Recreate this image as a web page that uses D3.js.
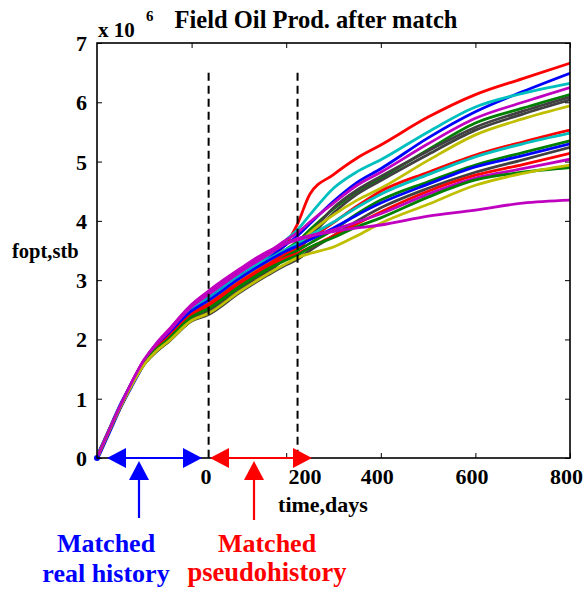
<!DOCTYPE html>
<html><head><meta charset="utf-8">
<script src="https://cdn.jsdelivr.net/npm/d3@7"></script>
<style>
body{margin:0;background:#fff}
text{font-family:"Liberation Serif","Times New Roman",serif;font-weight:bold}
</style>
</head><body>
<svg id="c" width="583" height="590"></svg>
<script>
// ---------- data ----------
const times = [-200, -150, -100, -75, -50, 0, 36, 100, 160, 200, 224, 250, 300, 350, 400, 500, 600, 700, 800];
const seriesColors = ["red","blue","cyan","magenta","green","gray","gray","yellow","red","cyan","green","blue","gray","red","magenta","green","yellow","magenta"];
const s01 = [0, .88, 1.64, 1.89, 2.09, 2.51, 2.70, 3.06, 3.36, 3.62, 3.95, 4.45, 4.78, 5.06, 5.28, 5.75, 6.13, 6.40, 6.66];
const s02 = [0, .89, 1.64, 1.90, 2.10, 2.52, 2.72, 3.08, 3.38, 3.60, 3.75, 3.95, 4.33, 4.65, 4.88, 5.40, 5.84, 6.18, 6.49];
const s03 = [0, .89, 1.64, 1.90, 2.11, 2.53, 2.74, 3.10, 3.40, 3.68, 3.85, 4.10, 4.55, 4.83, 5.03, 5.50, 5.92, 6.15, 6.32];
const s04 = [0, .89, 1.66, 1.92, 2.14, 2.58, 2.80, 3.16, 3.46, 3.68, 3.80, 3.98, 4.30, 4.60, 4.82, 5.30, 5.73, 6.00, 6.25];
const s05 = [0, .88, 1.62, 1.87, 2.06, 2.46, 2.64, 3.00, 3.30, 3.52, 3.65, 3.85, 4.20, 4.50, 4.72, 5.20, 5.65, 5.90, 6.13];
const s06 = [0, .87, 1.60, 1.82, 1.99, 2.37, 2.50, 2.86, 3.16, 3.42, 3.55, 3.78, 4.22, 4.52, 4.75, 5.18, 5.58, 5.85, 6.09];
const s07 = [0, .87, 1.59, 1.80, 1.97, 2.34, 2.46, 2.82, 3.12, 3.38, 3.50, 3.73, 4.13, 4.45, 4.68, 5.12, 5.53, 5.80, 6.04];
const s08 = [0, .88, 1.62, 1.86, 2.05, 2.45, 2.62, 2.98, 3.28, 3.48, 3.60, 3.80, 4.10, 4.35, 4.55, 5.02, 5.45, 5.72, 5.94];
const s09 = [0, .88, 1.62, 1.85, 2.04, 2.44, 2.60, 2.96, 3.26, 3.45, 3.55, 3.70, 3.97, 4.25, 4.50, 4.82, 5.11, 5.33, 5.53];
const s10 = [0, .88, 1.63, 1.88, 2.08, 2.49, 2.68, 3.04, 3.34, 3.52, 3.62, 3.75, 3.98, 4.23, 4.45, 4.78, 5.08, 5.30, 5.48];
const s11 = [0, .88, 1.61, 1.84, 2.02, 2.41, 2.56, 2.92, 3.22, 3.40, 3.50, 3.62, 3.85, 4.12, 4.35, 4.66, 4.94, 5.15, 5.35];
const s12 = [0, .88, 1.63, 1.87, 2.07, 2.48, 2.66, 3.02, 3.32, 3.49, 3.58, 3.68, 3.88, 4.10, 4.30, 4.62, 4.91, 5.10, 5.30];
const s13 = [0, .87, 1.58, 1.79, 1.95, 2.31, 2.42, 2.78, 3.08, 3.26, 3.35, 3.50, 3.75, 4.00, 4.22, 4.55, 4.82, 5.03, 5.24];
const s14 = [0, .88, 1.61, 1.85, 2.03, 2.42, 2.58, 2.94, 3.24, 3.38, 3.45, 3.55, 3.75, 3.95, 4.15, 4.50, 4.77, 4.95, 5.14];
const s15 = [0, .89, 1.65, 1.91, 2.12, 2.55, 2.76, 3.12, 3.42, 3.62, 3.70, 3.75, 3.85, 3.98, 4.12, 4.45, 4.72, 4.88, 5.04];
const s16 = [0, .87, 1.60, 1.83, 2.00, 2.38, 2.52, 2.88, 3.18, 3.34, 3.42, 3.55, 3.72, 3.90, 4.05, 4.40, 4.69, 4.82, 4.90];
const s17 = [0, .87, 1.58, 1.80, 1.96, 2.32, 2.44, 2.80, 3.10, 3.28, 3.38, 3.45, 3.56, 3.75, 3.96, 4.28, 4.60, 4.80, 4.94];
const s18 = [0, .89, 1.66, 1.93, 2.15, 2.59, 2.82, 3.18, 3.48, 3.62, 3.68, 3.74, 3.82, 3.88, 3.93, 4.08, 4.18, 4.30, 4.35];
const seriesValues = [s01,s02,s03,s04,s05,s06,s07,s08,s09,s10,s11,s12,s13,s14,s15,s16,s17,s18];
const observedTimes = [-200, -175, -150, -125, -100];
const observedValues = [0, 0.44, 0.88, 1.26, 1.62];
const yTicks = [0,1,2,3,4,5,6,7];
const xTicks = [0,200,400,600,800];
const xDomain = [-200, 800];
const yDomain = [0, 7];
const matchStart = 36, matchEnd = 224;   // dashed lines (days)
const dashTop = 6.5;
const title = "Field Oil Prod. after match";
const palette = {red:"#ff0000", blue:"#0000ff", cyan:"#00bfbf", magenta:"#bf00bf",
  green:"#008000", gray:"#404040", yellow:"#bfbf00"};

// ---------- layout ----------
const L = 97, R = 570, T = 43, B = 458;
const x = d3.scaleLinear().domain(xDomain).range([L, R]);
const y = d3.scaleLinear().domain(yDomain).range([B, T]);
const svg = d3.select("#c");

svg.append("defs").append("clipPath").attr("id","clip")
  .append("rect").attr("x",L).attr("y",T).attr("width",R-L).attr("height",B-T);

// lines
const line = d3.line().x(d=>x(d[0])).y(d=>y(d[1])).curve(d3.curveMonotoneX);
const g = svg.append("g").attr("clip-path","url(#clip)");
g.append("path").datum(observedTimes.map((t,i)=>[t,observedValues[i]]))
  .attr("d",line).attr("fill","none").attr("stroke","#0000ff").attr("stroke-width",4.5);
seriesValues.forEach((vals,k)=>{
  g.append("path").datum(times.map((t,i)=>[t,vals[i]]))
    .attr("d",line).attr("fill","none")
    .attr("stroke",palette[seriesColors[k]]).attr("stroke-width",2.8)
    .attr("stroke-linejoin","round");
});
svg.append("circle").attr("cx",x(xDomain[0])).attr("cy",y(0)).attr("r",3).attr("fill","#0000ff");

// dashed lines
[matchStart, matchEnd].forEach(t=>{
  svg.append("line").attr("x1",x(t)).attr("x2",x(t)).attr("y1",y(dashTop)).attr("y2",y(0))
    .attr("stroke","#000").attr("stroke-width",2).attr("stroke-dasharray","8,5");
});

// axes (box with inward ticks)
const tick = 5;
const ax = svg.append("g");
const xb = ax.append("g").attr("transform",`translate(0,${B})`)
  .call(d3.axisBottom(x).tickValues(xTicks).tickSize(-tick).tickFormat(d3.format("d")));
const xt = ax.append("g").attr("transform",`translate(0,${T})`)
  .call(d3.axisTop(x).tickValues(xTicks).tickSize(-tick).tickFormat(""));
const yl = ax.append("g").attr("transform",`translate(${L},0)`)
  .call(d3.axisLeft(y).tickValues(yTicks).tickSize(-tick).tickFormat(d3.format("d")));
const yr = ax.append("g").attr("transform",`translate(${R},0)`)
  .call(d3.axisRight(y).tickValues(yTicks).tickSize(-tick).tickFormat(""));
ax.selectAll(".domain").remove();
ax.selectAll(".tick line").attr("stroke","#000").attr("stroke-width",1);
svg.append("rect").attr("x",L).attr("y",T).attr("width",R-L).attr("height",B-T)
  .attr("fill","none").attr("stroke","#000").attr("stroke-width",1.6);

xb.selectAll("text").attr("font-size",22).attr("fill","#000").attr("dy",null).attr("y",26)
  .attr("font-family",null)
  .attr("x",d=> d===0 ? x(matchStart)-x(0)-3 : d===200 ? x(matchEnd)-x(200)+7 : -4);
yl.selectAll("text").attr("font-size",22).attr("fill","#000").attr("x",-10).attr("dy","0.34em")
  .attr("font-family",null);

// title and labels
svg.append("text").attr("x",316).attr("y",28).attr("text-anchor","middle")
  .attr("font-size",24.5).text(title);
svg.append("text").attr("x",98).attr("y",37).attr("font-size",21).text("x 10");
svg.append("text").attr("x",146).attr("y",21).attr("font-size",15).text("6");
svg.append("text").attr("x",12).attr("y",258).attr("font-size",20.5).text("fopt,stb");
svg.append("text").attr("x",323).attr("y",512).attr("text-anchor","middle").attr("font-size",22).text("time,days");

// annotations
const blue = "#0000ff", red = "#ff0000";
function hArrow(x1, x2, col){
  const yy = B, hl = 19, hw = 10;
  svg.append("line").attr("x1",x1+hl-2).attr("x2",x2-hl+2).attr("y1",yy).attr("y2",yy)
    .attr("stroke",col).attr("stroke-width",2.2);
  svg.append("path").attr("d",`M${x1},${yy}L${x1+hl},${yy-hw}L${x1+hl},${yy+hw}Z`).attr("fill",col);
  svg.append("path").attr("d",`M${x2},${yy}L${x2-hl},${yy-hw}L${x2-hl},${yy+hw}Z`).attr("fill",col);
}
hArrow(107, 202, blue);
hArrow(210, 312, red);
function vArrow(xx, bottom, col){
  svg.append("line").attr("x1",xx).attr("x2",xx).attr("y1",478).attr("y2",bottom)
    .attr("stroke",col).attr("stroke-width",2.2);
  svg.append("path").attr("d",`M${xx},461L${xx-10},480L${xx+10},480Z`).attr("fill",col);
}
vArrow(139, 518, blue);
vArrow(254, 520, red);
svg.append("text").attr("x",106).attr("y",552).attr("text-anchor","middle").attr("font-size",26).attr("fill",blue).text("Matched");
svg.append("text").attr("x",106).attr("y",582).attr("text-anchor","middle").attr("font-size",26).attr("fill",blue).text("real history");
svg.append("text").attr("x",267).attr("y",552).attr("text-anchor","middle").attr("font-size",26).attr("fill",red).text("Matched");
svg.append("text").attr("x",267).attr("y",581).attr("text-anchor","middle").attr("font-size",26.5).attr("fill",red).text("pseudohistory");
</script>
</body></html>
